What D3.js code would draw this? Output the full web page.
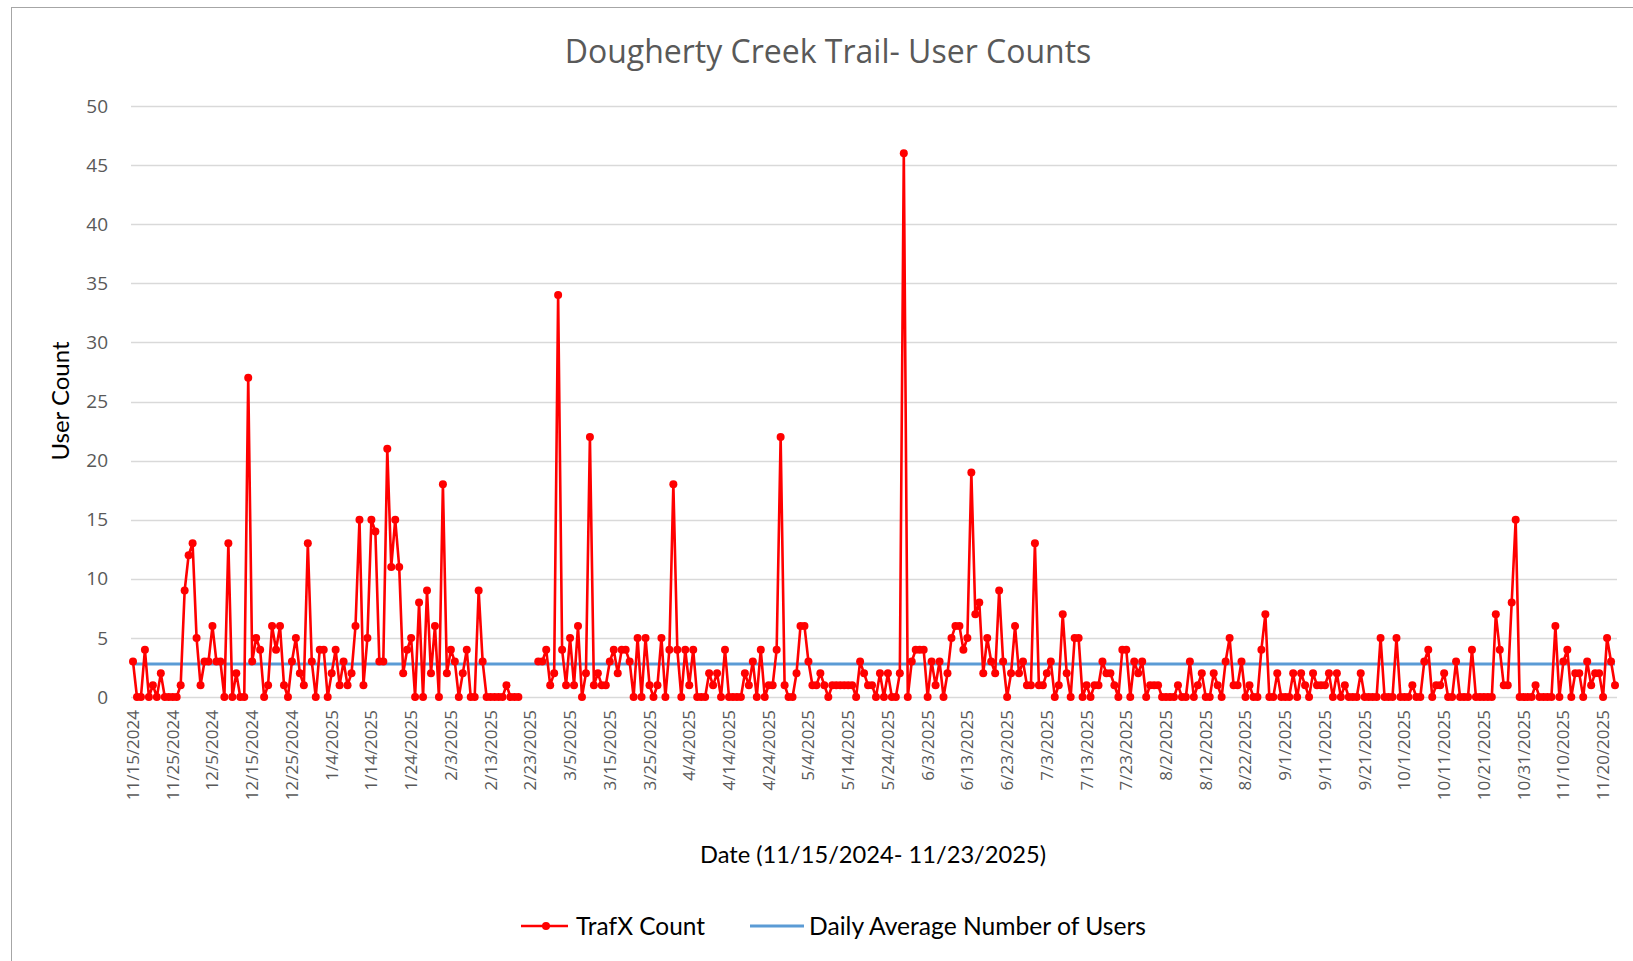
<!DOCTYPE html>
<html>
<head>
<meta charset="utf-8">
<script src="https://cdn.jsdelivr.net/npm/d3@7"></script>
<style>
  body { margin: 0; background: #fff; }
</style>
</head>
<body>
<div id="chart"></div>
<script>
// daily TrafX counts, one per day from startDate (null = no data)
var startDate = "11/15/2024";
var endDate = "11/23/2025";
var trafxCounts = [
  3,0,0,4,0,1,0,2,0,0,  0,0,1,9,12,13,5,1,3,3,  6,3,3,0,13,0,2,0,0,27,
  3,5,4,0,1,6,4,6,1,0,  3,5,2,1,13,3,0,4,4,0,  2,4,1,3,1,2,6,15,1,5,
  15,14,3,3,21,11,15,11,2,4,  5,0,8,0,9,2,6,0,18,2,  4,3,0,2,4,0,0,9,3,0,
  0,0,0,0,1,0,0,0,null,null,  null,null,3,3,4,1,2,34,4,1,  5,1,6,0,2,22,1,2,1,1,
  3,4,2,4,4,3,0,5,0,5,  1,0,1,5,0,4,18,4,0,4,  1,4,0,0,0,2,1,2,0,4,
  0,0,0,0,2,1,3,0,4,0,  1,1,4,22,1,0,0,2,6,6,  3,1,1,2,1,0,1,1,1,1,
  1,1,0,3,2,1,1,0,2,0,  2,0,0,2,46,0,3,4,4,4,  0,3,1,3,0,2,5,6,6,4,
  5,19,7,8,2,5,3,2,9,3,  0,2,6,2,3,1,1,13,1,1,  2,3,0,1,7,2,0,5,5,0,
  1,0,1,1,3,2,2,1,0,4,  4,0,3,2,3,0,1,1,1,0,  0,0,0,1,0,0,3,0,1,2,
  0,0,2,1,0,3,5,1,1,3,  0,1,0,0,4,7,0,0,2,0,  0,0,2,0,2,1,0,2,1,1,
  1,2,0,2,0,1,0,0,0,2,  0,0,0,0,5,0,0,0,5,0,  0,0,1,0,0,3,4,0,1,1,
  2,0,0,3,0,0,0,4,0,0,  0,0,0,7,4,1,1,8,15,0,  0,0,0,1,0,0,0,0,6,0,
  3,4,0,2,2,0,3,1,2,2,  0,5,3,1
];
var dailyAverage = 2.8;

var xTickLabels = [
  "11/15/2024","11/25/2024","12/5/2024","12/15/2024","12/25/2024",
  "1/4/2025","1/14/2025","1/24/2025","2/3/2025","2/13/2025","2/23/2025",
  "3/5/2025","3/15/2025","3/25/2025","4/4/2025","4/14/2025","4/24/2025",
  "5/4/2025","5/14/2025","5/24/2025","6/3/2025","6/13/2025","6/23/2025",
  "7/3/2025","7/13/2025","7/23/2025","8/2/2025","8/12/2025","8/22/2025",
  "9/1/2025","9/11/2025","9/21/2025","10/1/2025","10/11/2025","10/21/2025",
  "10/31/2025","11/10/2025","11/20/2025"
];
var yTickValues = [0, 5, 10, 15, 20, 25, 30, 35, 40, 45, 50];

var legendNames = ["TrafX Count", "Daily Average Number of Users"];

var width = 1633, height = 961;
var parseDate = d3.utcParse("%m/%d/%Y");
var start = parseDate(startDate);

var points = trafxCounts.map(function(v, i) {
  return { date: d3.utcDay.offset(start, i), value: v };
});

var svg = d3.select("#chart").append("svg")
  .attr("width", width)
  .attr("height", height)
  .style("font-family", "'Open Sans', sans-serif");

// chart frame
svg.append("rect")
  .attr("x", 11.5).attr("y", 7.5)
  .attr("width", 1700).attr("height", 1000)
  .attr("fill", "#fff")
  .attr("stroke", "#a6a6a6")
  .attr("stroke-width", 1);

var x = d3.scaleUtc()
  .domain([start, parseDate(endDate)])
  .range([133, 1615]);

var y = d3.scaleLinear()
  .domain([0, 50])
  .range([697, 106]);

// gridlines
svg.append("g").selectAll("line")
  .data(yTickValues)
  .enter().append("line")
  .attr("x1", 131).attr("x2", 1617)
  .attr("y1", function(d) { return Math.round(y(d)) + 0.5; })
  .attr("y2", function(d) { return Math.round(y(d)) + 0.5; })
  .attr("stroke", "#d9d9d9")
  .attr("stroke-width", 1.5);

// y tick labels
svg.append("g").selectAll("text")
  .data(yTickValues)
  .enter().append("text")
  .attr("x", 108)
  .attr("y", function(d) { return y(d); })
  .attr("dy", "0.35em")
  .attr("text-anchor", "end")
  .attr("fill", "#595959")
  .style("font-size", "19px")
  .text(function(d) { return d; });

// x tick labels (rotated)
svg.append("g").selectAll("text")
  .data(xTickLabels)
  .enter().append("text")
  .attr("transform", function(d) {
    return "translate(" + (x(parseDate(d)) + 6) + ",710) rotate(-90)";
  })
  .attr("text-anchor", "end")
  .attr("fill", "#595959")
  .style("font-size", "17px")
  .text(function(d) { return d; });

// average line
svg.append("line")
  .attr("x1", x(start)).attr("x2", x(parseDate(endDate)))
  .attr("y1", y(dailyAverage)).attr("y2", y(dailyAverage))
  .attr("stroke", "#5b9bd5")
  .attr("stroke-width", 3);

// counts line
var line = d3.line()
  .defined(function(d) { return d.value !== null; })
  .x(function(d) { return x(d.date); })
  .y(function(d) { return y(d.value); });

svg.append("path")
  .datum(points)
  .attr("fill", "none")
  .attr("stroke", "#ff0000")
  .attr("stroke-width", 2.6)
  .attr("stroke-linejoin", "round")
  .attr("d", line);

svg.append("g").selectAll("circle")
  .data(points.filter(function(d) { return d.value !== null; }))
  .enter().append("circle")
  .attr("cx", function(d) { return x(d.date); })
  .attr("cy", function(d) { return y(d.value); })
  .attr("r", 4)
  .attr("fill", "#ff0000");

// title
svg.append("text")
  .attr("x", 828).attr("y", 63)
  .attr("text-anchor", "middle")
  .attr("fill", "#595959")
  .style("font-size", "32px")
  .text("Dougherty Creek Trail- User Counts");

// fit a text element to a target width
function fitWidth(sel, w) {
  sel.attr("textLength", w).attr("lengthAdjust", "spacingAndGlyphs");
}

// axis titles
var yTitle = svg.append("text")
  .attr("transform", "translate(69,401) rotate(-90)")
  .attr("text-anchor", "middle")
  .attr("fill", "#000")
  .style("font-family", "Lato, sans-serif")
  .style("font-size", "24px")
  .text("User Count");
fitWidth(yTitle, 119);

var xTitle = svg.append("text")
  .attr("x", 873).attr("y", 863)
  .attr("text-anchor", "middle")
  .attr("fill", "#000")
  .style("font-family", "Lato, sans-serif")
  .style("font-size", "24px")
  .text("Date (11/15/2024- 11/23/2025)");
fitWidth(xTitle, 346);

// legend
var legend = svg.append("g");
legend.append("line")
  .attr("x1", 521).attr("x2", 568).attr("y1", 926).attr("y2", 926)
  .attr("stroke", "#ff0000").attr("stroke-width", 2.6);
legend.append("circle")
  .attr("cx", 546).attr("cy", 926).attr("r", 4).attr("fill", "#ff0000");
var leg1 = legend.append("text")
  .attr("x", 576).attr("y", 935)
  .attr("fill", "#000")
  .style("font-family", "Lato, sans-serif")
  .style("font-size", "25px")
  .text(legendNames[0]);
fitWidth(leg1, 129);

legend.append("line")
  .attr("x1", 750).attr("x2", 804).attr("y1", 926).attr("y2", 926)
  .attr("stroke", "#5b9bd5").attr("stroke-width", 3);
var leg2 = legend.append("text")
  .attr("x", 809).attr("y", 935)
  .attr("fill", "#000")
  .style("font-family", "Lato, sans-serif")
  .style("font-size", "25px")
  .text(legendNames[1]);
fitWidth(leg2, 337);
</script>
</body>
</html>
